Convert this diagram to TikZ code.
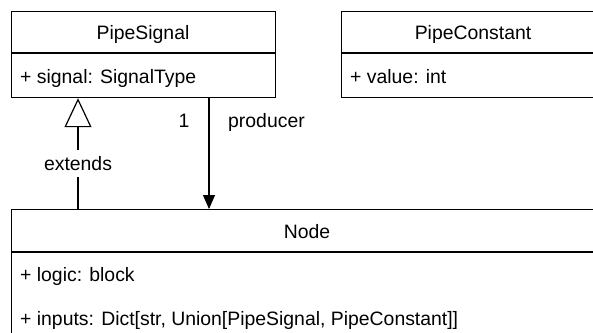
\documentclass[tikz,border=0pt]{standalone}
\usepackage{fontspec}
\setmainfont{Liberation Sans}
\usetikzlibrary{arrows.meta}
\begin{document}
\begin{tikzpicture}[x=1bp,y=-1bp,
  every node/.style={font=\fontsize{19.4bp}{23bp}\selectfont, inner sep=0pt},
  umlbox/.style={draw=black, line width=1.2bp, fill=white, anchor=north west, minimum height=#1},
  title/.style={anchor=base},
  field/.style={anchor=base west},
  edge/.style={draw=black, line width=1.2bp},
  inherit/.style={edge, -{Triangle[open, length=29bp, width=27bp, fill=white]}},
  assoc/.style={edge, -{Triangle[length=14bp, width=12bp]}},
  elabel/.style={anchor=base}
]
\useasboundingbox (0,0) rectangle (593,332);
\clip (0,0) rectangle (593,332);

% class PipeSignal
\node[umlbox=86bp, minimum width=264bp] (ps) at (11,11) {};
\draw[line width=1.2bp] (11,53) -- (275,53);
\node[title] (psT) at (143,39.5) {PipeSignal};
\node[field] (psF) at (20,83) {+ signal: SignalType};

% class PipeConstant
\node[umlbox=86bp, minimum width=264bp] (pc) at (341,11) {};
\draw[line width=1.2bp] (341,53) -- (605,53);
\node[title] (pcT) at (473,39.5) {PipeConstant};
\node[field] (pcF) at (350,83) {+ value: int};

% class Node
\node[umlbox=190bp, minimum width=592bp] (nd) at (11,209) {};
\draw[line width=1.2bp] (11,252) -- (603,252);
\node[title] (ndT) at (307,238) {Node};
\node[field] (ndF1) at (20,281) {+ logic: block};
\node[field] (ndF2) at (20,325) {+ inputs: Dict[str, Union[PipeSignal, PipeConstant]]};

% connectors
\coordinate (extx) at (78,0);
\coordinate (prodx) at (209,0);
\draw[inherit] (nd.north -| extx) -- (ps.south -| extx)
  node[pos=0.41, fill=white, inner xsep=2bp, inner ysep=6bp] (ext) {extends};
\draw[assoc] (ps.south -| prodx) -- (nd.north -| prodx);
\node[elabel] (mult) at (184,127) {1};
\node[anchor=base west] (role) at (228,127) {producer};
\end{tikzpicture}
\end{document}
